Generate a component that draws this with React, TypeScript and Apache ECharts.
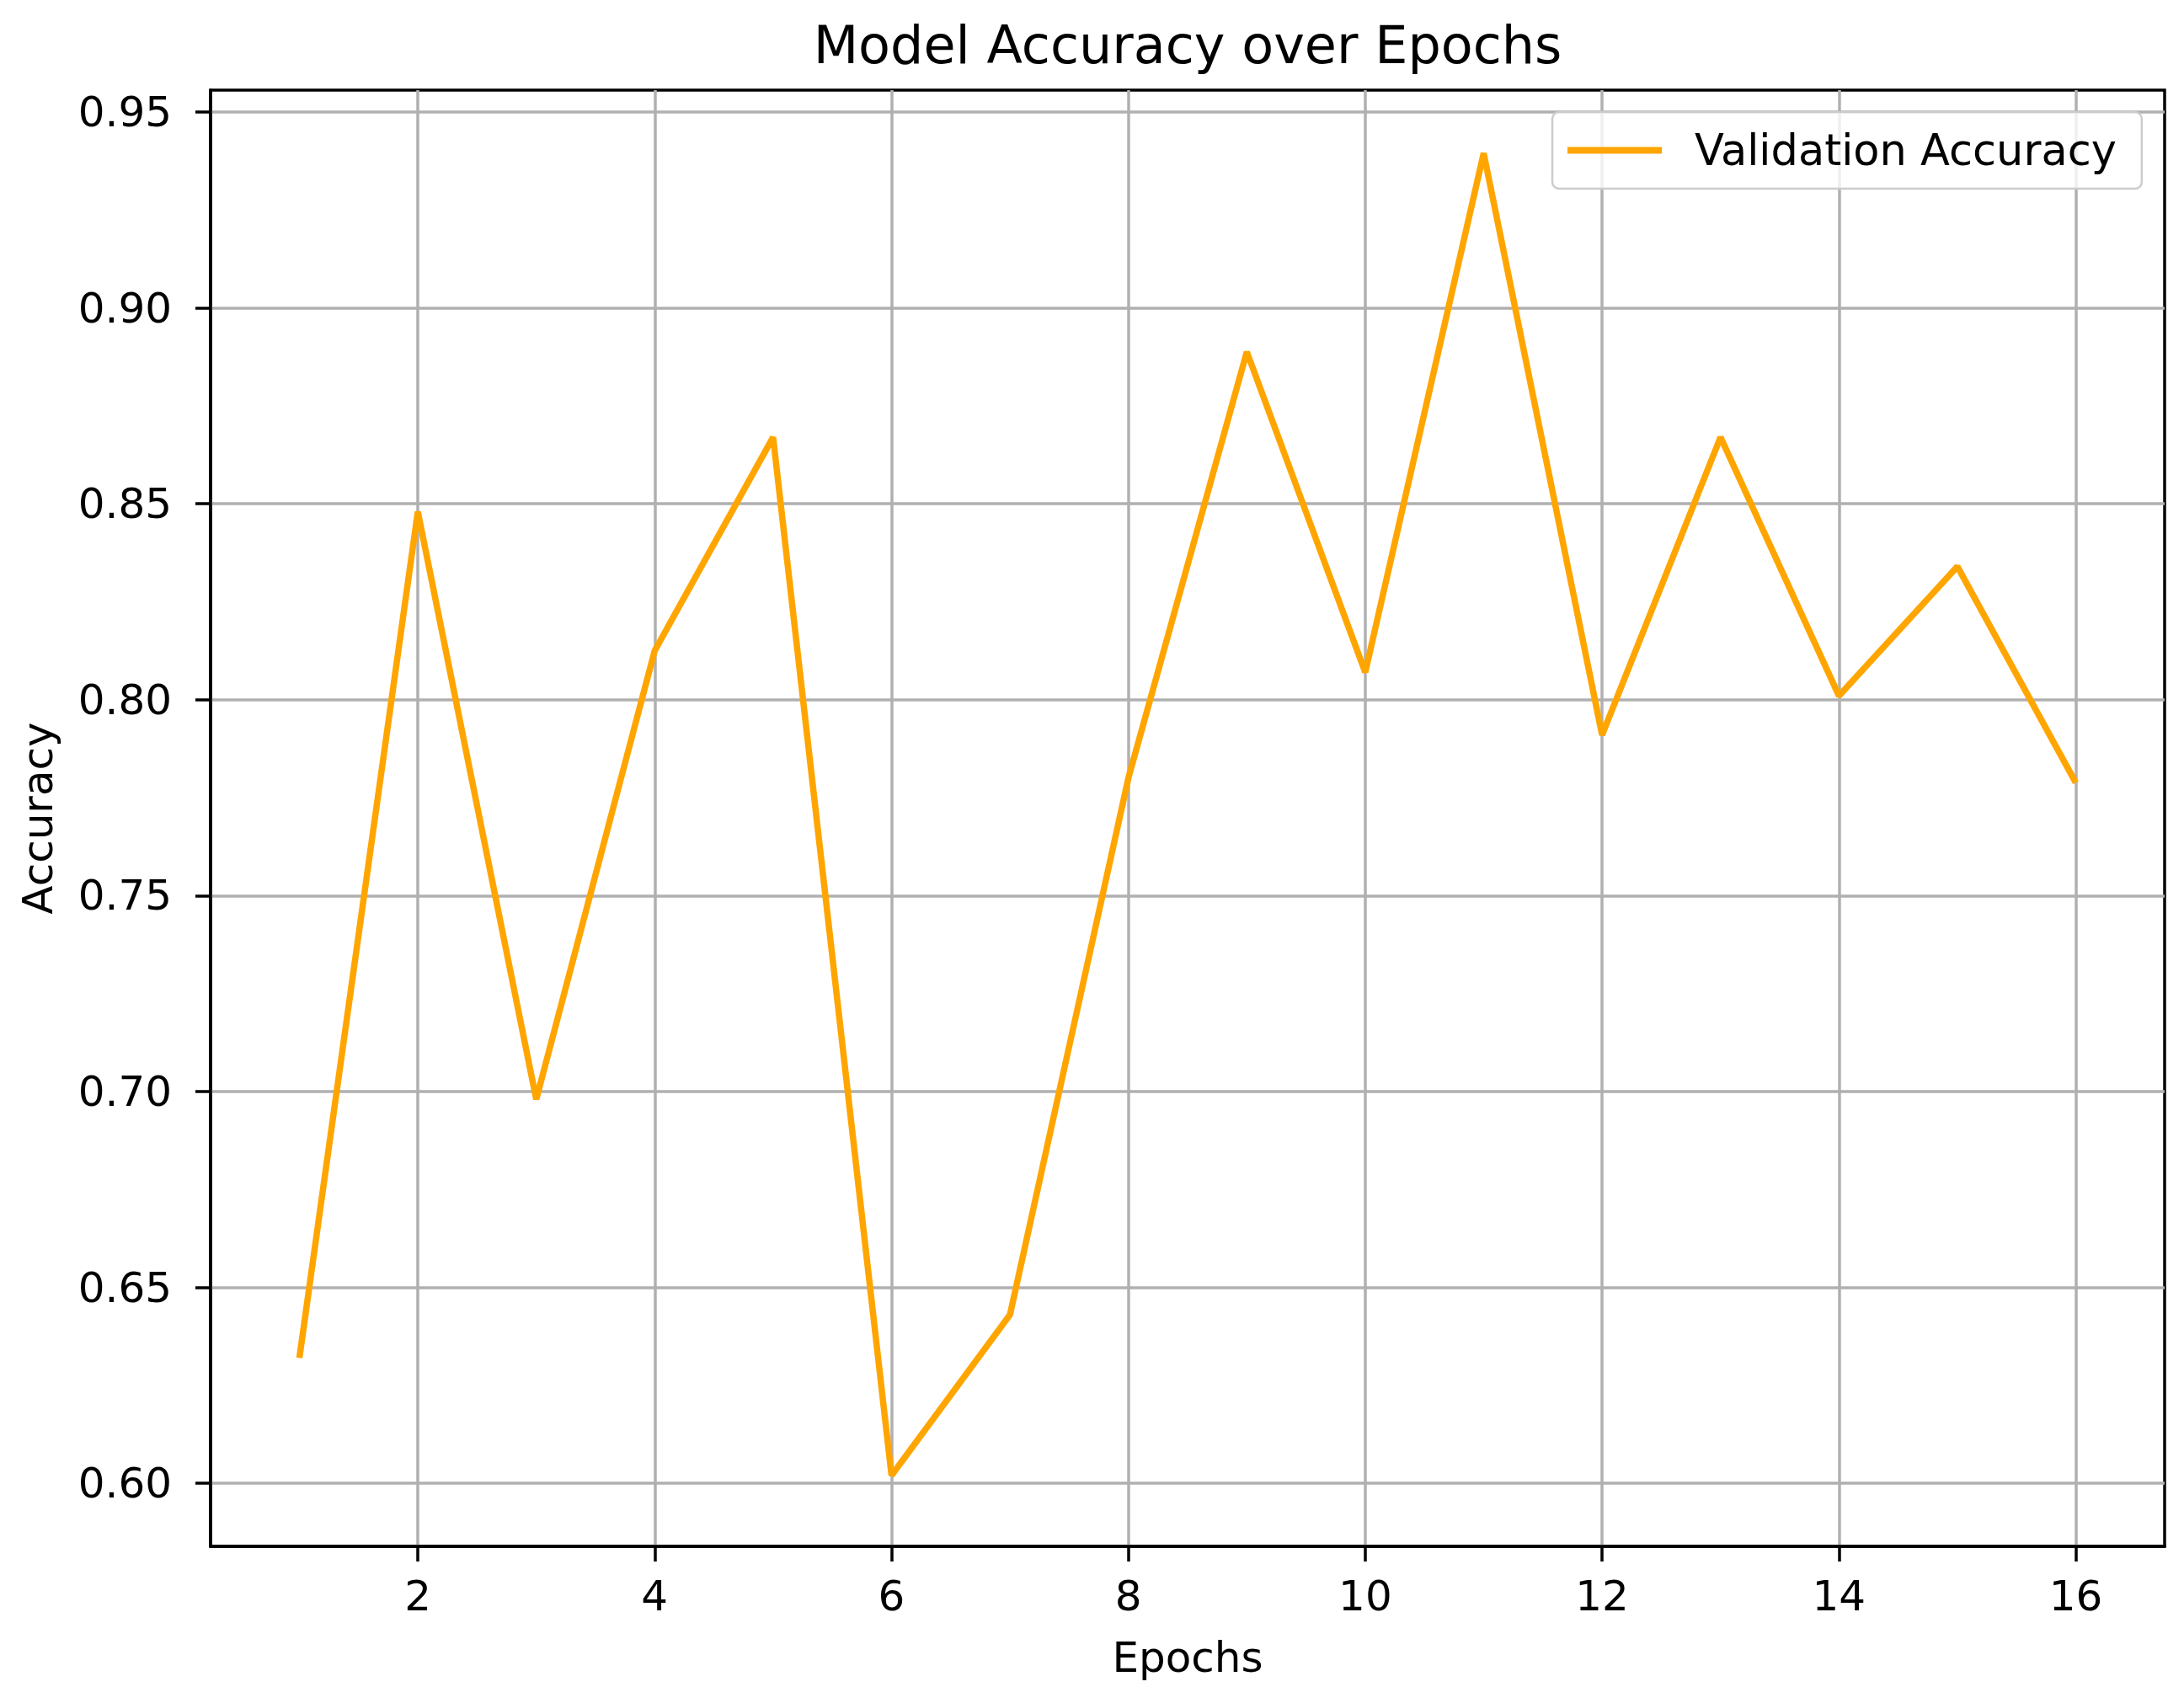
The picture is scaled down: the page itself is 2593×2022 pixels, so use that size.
import React, { useEffect, useRef } from "react";
import * as echarts from "echarts";

const epochs = [1, 2, 3, 4, 5, 6, 7, 8, 9, 10, 11, 12, 13, 14, 15, 16];
const valAccuracy = [0.632, 0.848, 0.698, 0.8125, 0.867, 0.602, 0.643, 0.780, 0.8888, 0.807, 0.9395, 0.791, 0.867, 0.801, 0.834, 0.7788];
const xTicks = [2, 4, 6, 8, 10, 12, 14, 16];
const yTicks = [0.6, 0.65, 0.7, 0.75, 0.8, 0.85, 0.9, 0.95];

const FONT = "DejaVu Sans";

export default function App() {
  const ref = useRef<HTMLDivElement>(null);
  useEffect(() => {
    if (!ref.current) return;
    const chart = echarts.init(ref.current, null, { renderer: "svg" });
    const data = epochs.map((e, i) => [e, valAccuracy[i]]);
    chart.setOption({
      animation: false,
      backgroundColor: "#ffffff",
      textStyle: { fontFamily: FONT },
      title: {
        text: "Model Accuracy over Epochs",
        left: 1410,
        top: 22,
        padding: 0,
        textAlign: "center",
        textStyle: { fontFamily: FONT, fontSize: 62, fontWeight: "normal", color: "#000" },
      },
      legend: {
        left: 1843,
        top: 133,
        padding: [20, 30, 20, 18],
        itemWidth: 112,
        itemHeight: 8,
        icon: "rect",
        borderColor: "#cccccc",
        borderWidth: 2.5,
        borderRadius: 8,
        backgroundColor: "rgba(255,255,255,0.8)",
        textStyle: { fontFamily: FONT, fontSize: 51, color: "#000", padding: [0, 0, 0, 34] },
        data: ["Validation Accuracy"],
      },
      grid: {
        left: 250,
        top: 107,
        width: 2320,
        height: 1729,
        show: true,
        borderColor: "#000",
        borderWidth: 3.5,
        containLabel: false,
      },
      xAxis: {
        type: "value",
        min: 0.25,
        max: 16.75,
        name: "Epochs",
        nameLocation: "middle",
        nameGap: 107,
        nameTextStyle: { fontFamily: FONT, fontSize: 50, color: "#000" },
        axisLine: { show: true, lineStyle: { color: "#000", width: 3.5 } },
        axisTick: { show: true, inside: false, length: 18, lineStyle: { color: "#000", width: 3.5 }, customValues: xTicks },
        axisLabel: { fontFamily: FONT, fontSize: 50, color: "#000", margin: 34, customValues: xTicks, formatter: (v: number) => String(v) },
        splitLine: { show: true, lineStyle: { color: "#b0b0b0", width: 3.5 } },
      },
      yAxis: {
        type: "value",
        min: 0.5839,
        max: 0.9556,
        name: "Accuracy",
        nameLocation: "middle",
        nameGap: 180,
        nameTextStyle: { fontFamily: FONT, fontSize: 50, color: "#000" },
        axisLine: { show: true, lineStyle: { color: "#000", width: 3.5 } },
        axisTick: { show: true, inside: false, length: 18, lineStyle: { color: "#000", width: 3.5 }, customValues: yTicks },
        axisLabel: { fontFamily: FONT, fontSize: 50, color: "#000", margin: 46, customValues: yTicks, formatter: (v: number) => v.toFixed(2) },
        splitLine: { show: true, lineStyle: { color: "#b0b0b0", width: 3.5 } },
      },
      series: [
        {
          name: "Validation Accuracy",
          type: "line",
          data,
          symbol: "none",
          lineStyle: { color: "#FFA500", width: 7.5 },
          itemStyle: { color: "#FFA500" },
          z: 3,
        },
      ],
    });
    return () => chart.dispose();
  }, []);
  return <div ref={ref} style={{ position: "absolute", left: 0, top: 0, width: 2593, height: 2022 }} />;
}
